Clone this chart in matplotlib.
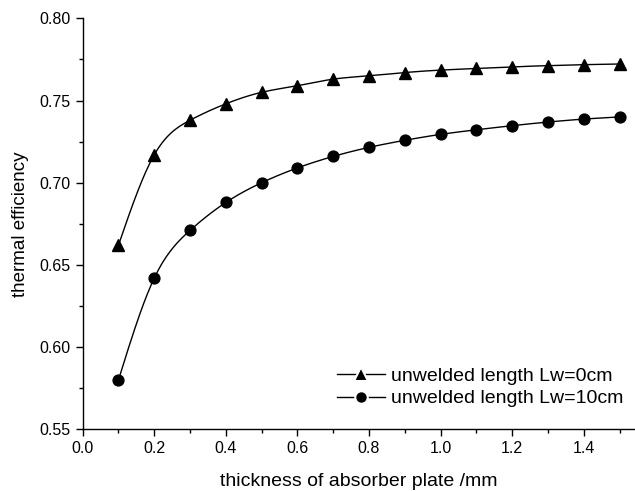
import numpy as np
import matplotlib
matplotlib.use("Agg")
import matplotlib.pyplot as plt
from matplotlib.lines import Line2D

plt.rcParams['font.family'] = ['Liberation Sans', 'DejaVu Sans']

thickness = [0.1, 0.2, 0.3, 0.4, 0.5, 0.6, 0.7, 0.8, 0.9, 1.0, 1.1, 1.2, 1.3, 1.4, 1.5]
eff_lw0 = [0.662, 0.717, 0.738, 0.748, 0.755, 0.759, 0.763, 0.765, 0.767,
           0.7685, 0.7695, 0.7705, 0.7712, 0.7718, 0.7722]
eff_lw10 = [0.580, 0.642, 0.671, 0.688, 0.700, 0.709, 0.716, 0.7215, 0.7258,
            0.7294, 0.7322, 0.7347, 0.7369, 0.7387, 0.740]
labels = ["unwelded length Lw=0cm", "unwelded length Lw=10cm"]


def spline(x, y, n=400):
    x = np.asarray(x, float)
    y = np.asarray(y, float)
    m = len(x)
    h = np.diff(x)
    A = np.zeros((m, m))
    b = np.zeros(m)
    A[0, 0] = 1
    A[-1, -1] = 1
    for i in range(1, m - 1):
        A[i, i - 1] = h[i - 1]
        A[i, i] = 2 * (h[i - 1] + h[i])
        A[i, i + 1] = h[i]
        b[i] = 3 * ((y[i + 1] - y[i]) / h[i] - (y[i] - y[i - 1]) / h[i - 1])
    c = np.linalg.solve(A, b)
    xs = np.linspace(x[0], x[-1], n)
    idx = np.clip(np.searchsorted(x, xs) - 1, 0, m - 2)
    dx = xs - x[idx]
    hi = h[idx]
    bb = (y[idx + 1] - y[idx]) / hi - hi * (2 * c[idx] + c[idx + 1]) / 3
    d = (c[idx + 1] - c[idx]) / (3 * hi)
    ys = y[idx] + bb * dx + c[idx] * dx ** 2 + d * dx ** 3
    return xs, ys


fig = plt.figure(figsize=(6.35, 4.91), dpi=100)
ax = fig.add_axes([0.1302, 0.1257, 0.8698, 0.837])

for yv, mk, ms in [(eff_lw0, '^', 8.5), (eff_lw10, 'o', 7.8)]:
    xs, ys = spline(thickness, yv)
    ax.plot(xs, ys, color='black', lw=1.0)
    ax.plot(thickness, yv, linestyle='none', marker=mk, color='black', ms=ms)

handles = [Line2D([], [], color='black', lw=1.0, marker='^', ms=9.5,
                  mfc='black', mec='white', mew=1.5),
           Line2D([], [], color='black', lw=1.0, marker='o', ms=9,
                  mfc='black', mec='white', mew=1.5)]
ax.legend(handles, labels, loc='lower right', bbox_to_anchor=(1.0, 0.025), frameon=False,
          fontsize=14, handlelength=2.5, handletextpad=0.3, labelspacing=0.25,
          borderaxespad=0.2)

ax.set_xlim(0, 1.543)
ax.set_ylim(0.55, 0.80)
ax.set_xticks(np.arange(0, 1.41, 0.2))
ax.set_xticks(np.arange(0.1, 1.55, 0.2), minor=True)
ax.set_yticks(np.arange(0.55, 0.801, 0.05))
ax.set_yticks(np.arange(0.575, 0.80, 0.05), minor=True)
ax.xaxis.set_major_formatter(matplotlib.ticker.FormatStrFormatter('%.1f'))
ax.yaxis.set_major_formatter(matplotlib.ticker.FormatStrFormatter('%.2f'))
for s in ['top', 'right']:
    ax.spines[s].set_visible(False)
for s in ['left', 'bottom']:
    ax.spines[s].set_linewidth(1.0)
ax.tick_params(which='major', direction='out', length=5, width=1.0, labelsize=11.5)
ax.tick_params(which='minor', direction='out', length=3, width=1.0)
ax.set_xlabel('thickness of absorber plate /mm', fontsize=14, labelpad=12)
ax.set_ylabel('thermal efficiency', fontsize=13.5, labelpad=8)

fig.savefig('out.png', dpi=100)
